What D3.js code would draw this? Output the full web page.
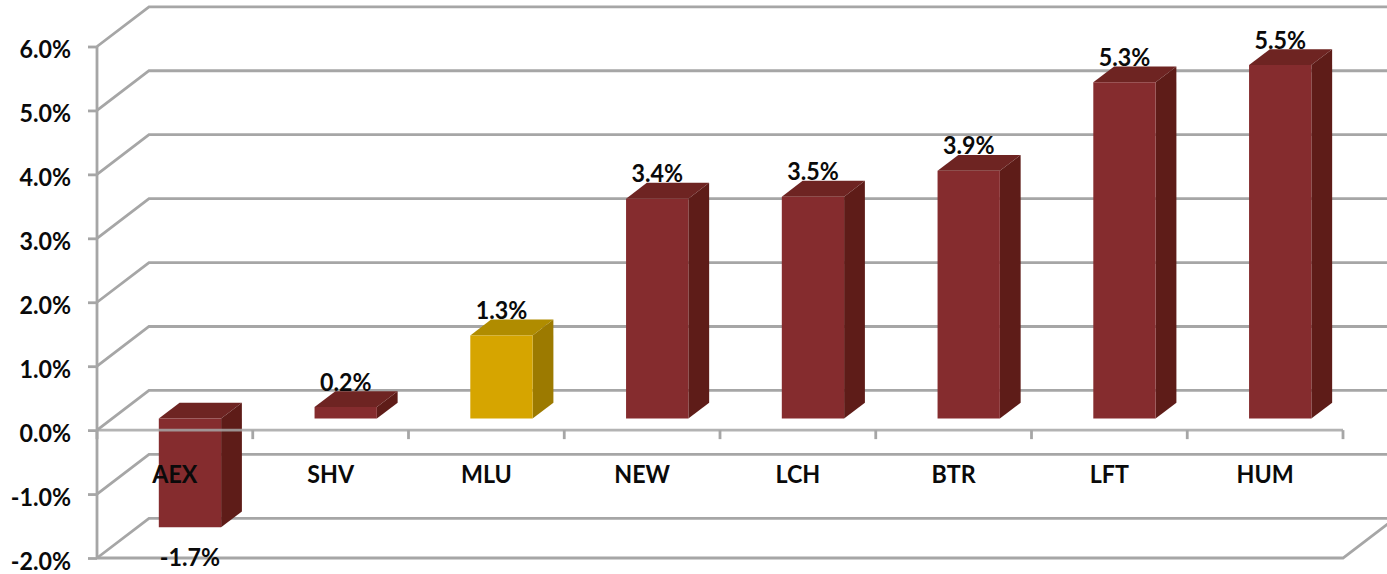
<!DOCTYPE html>
<html><head><meta charset="utf-8">
<style>html,body{margin:0;padding:0;background:#fff;overflow:hidden}svg{display:block}
text{font-family:Lato,"Open Sans",sans-serif;font-weight:700;fill:#0a0a0a}</style>
<script src="https://cdn.jsdelivr.net/npm/d3@7"></script></head><body>
<script>
const categories=["AEX","SHV","MLU","NEW","LCH","BTR","LFT","HUM"];
const values=[-1.7,0.18,1.3,3.44,3.47,3.875,5.26,5.53];
const highlighted=["MLU"];
const yTicks=[-2,-1,0,1,2,3,4,5,6];

const W=1387,H=574;
const fmt=d=>d.toFixed(1)+"%";
const colors={front:"#852c2e",side:"#5e1c18",top:"#6e2422"};
const hiColors={front:"#d6a500",side:"#9c7a00",top:"#b08c00"};
const grid="#a6a6a6";
const fontSize=25;
const narrow=sel=>sel.each(function(){
  const len=this.getComputedTextLength();
  d3.select(this).attr("textLength",len*0.93).attr("lengthAdjust","spacingAndGlyphs");
});
const svg=d3.select("body").append("svg").attr("width",W).attr("height",H);
const x=d3.scaleBand().domain(categories).range([97,1343]).paddingInner(0).paddingOuter(0);
const y=d3.scaleLinear().domain([-2,6]).range([558,46.5]);
const depth=d3.scaleLinear().domain([0,1]);
const dx=depth.copy().range([0,52]),dy=depth.copy().range([0,-39.7]);
const pt=(px,val,z)=>[px+dx(z),y(val)+dy(z)];
const line=d3.line();

// walls
const walls=svg.append("g").attr("fill","none").attr("stroke",grid).attr("stroke-width",2.8);
yTicks.forEach(t=>{
  walls.append("path").attr("d",line([pt(97,t,0),pt(97,t,1),pt(1343,t,1)]));
});
walls.append("path").attr("d",line([pt(97,-2,0),pt(1343,-2,0),pt(1343,-2,1)]));

// bars
const zFront=0.29,zBack=0.69,barW=x.bandwidth()*0.4;
const bars=svg.append("g").selectAll("g").data(categories).join("g");
bars.each(function(c,i){
  const v=values[i],g=d3.select(this);
  const col=highlighted.includes(c)?hiColors:colors;
  const l=x(c)+(x.bandwidth()-barW)/2,r=l+barW;
  const hi=Math.max(v,0),lo=Math.min(v,0);
  const poly=(pts,f)=>g.append("path").attr("d",line(pts)+"Z").attr("fill",f);
  poly([pt(l,hi,zFront),pt(l,hi,zBack),pt(r,hi,zBack),pt(r,hi,zFront)],col.top);
  poly([pt(r,hi,zFront),pt(r,hi,zBack),pt(r,lo,zBack),pt(r,lo,zFront)],col.side);
  poly([pt(l,hi,zFront),pt(r,hi,zFront),pt(r,lo,zFront),pt(l,lo,zFront)],col.front);
});

// front axis lines
const front=svg.append("g").attr("fill","none").attr("stroke",grid).attr("stroke-width",2.8);
front.append("path").attr("d",line([pt(97,6,0),pt(97,-2,0)]));
front.append("path").attr("d",line([pt(97,0,0),pt(1343,0,0)])).attr("stroke-opacity",0.85);
const tickXs=categories.map(c=>x(c)).concat([x.range()[1]]);
front.selectAll(".tick").data(tickXs).join("path").attr("d",d=>line([[d,y(0)],[d,y(0)+9]]));

// axes
const yAxis=d3.axisLeft(y).tickValues(yTicks).tickFormat(fmt).tickSize(9).tickPadding(17);
const ya=svg.append("g").attr("transform","translate(97,0)").call(yAxis);
ya.select(".domain").remove();
ya.selectAll("line").attr("stroke",grid).attr("stroke-width",2.8);
ya.selectAll("text").attr("font-size",fontSize).attr("dy","0.45em").attr("fill","#0a0a0a").call(narrow);

const xAxis=d3.axisBottom(x).tickSize(0).tickPadding(0);
const xa=svg.append("g").attr("transform",`translate(0,${y(0)})`).call(xAxis);
xa.select(".domain").remove();
xa.selectAll("text").attr("font-size",fontSize).attr("dy","0").attr("y",52.5).attr("fill","#0a0a0a").call(narrow);

// value labels
svg.append("g").selectAll("text").data(categories).join("text")
  .attr("text-anchor","middle").attr("font-size",fontSize)
  .attr("x",(c)=>x(c)+x.bandwidth()/2+dx(zFront))
  .attr("y",(c,i)=>{const v=values[i];const base=y(v)+dy(zFront);return v<0?base+39:base-16.5})
  .text((c,i)=>fmt(values[i]))
  .call(narrow);
</script></body></html>
